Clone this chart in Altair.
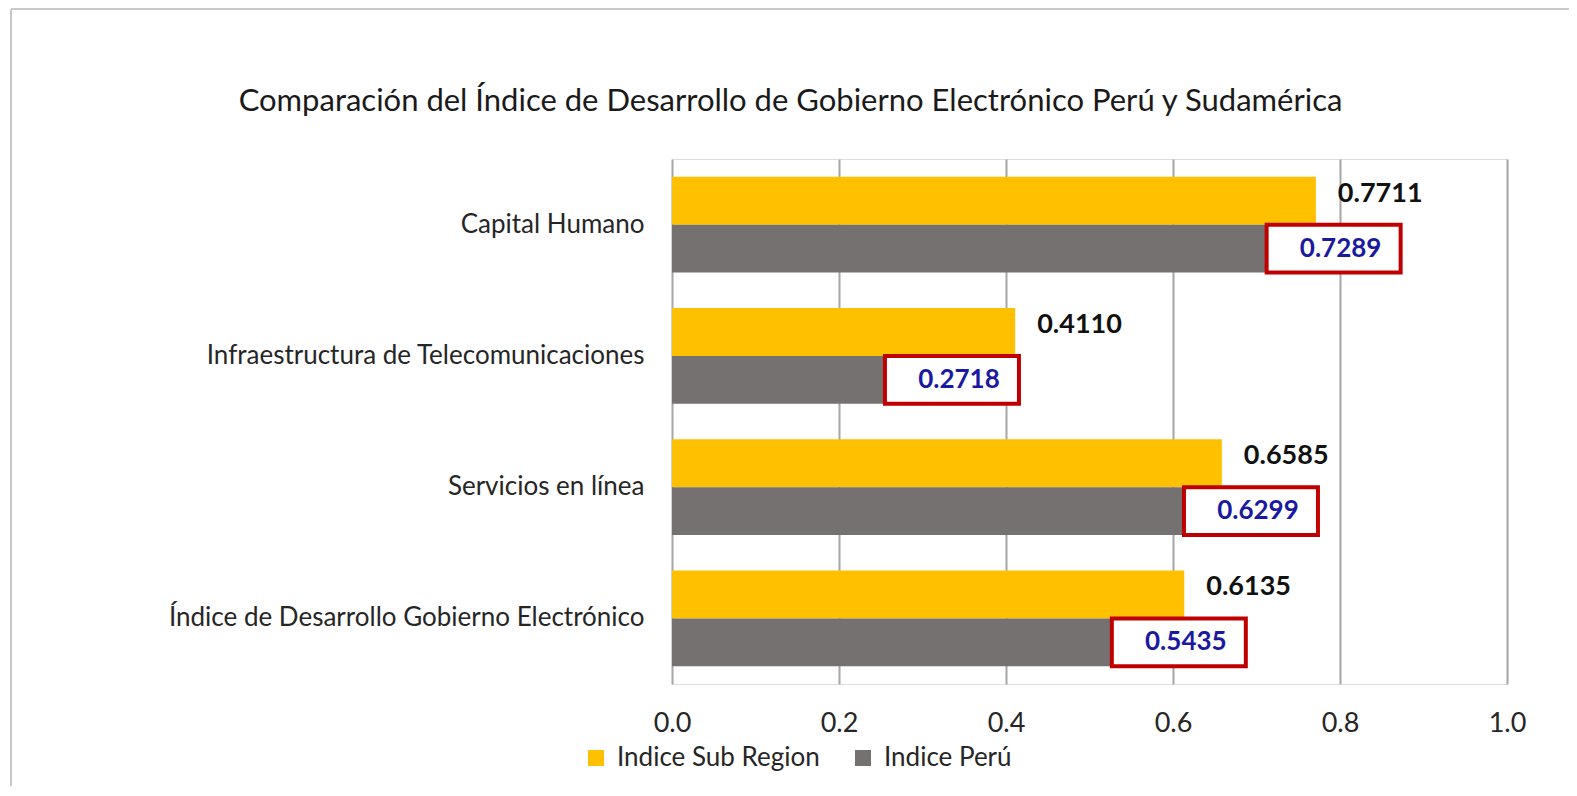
import altair as alt
import pandas as pd

categories = [
    "Capital Humano",
    "Infraestructura de Telecomunicaciones",
    "Servicios en línea",
    "Índice de Desarrollo Gobierno Electrónico",
]
sub_region = [0.7711, 0.4110, 0.6585, 0.6135]
peru = [0.7289, 0.2718, 0.6299, 0.5435]
series_names = ["Indice Sub Region", "Indice Perú"]
x_ticks = [0.0, 0.2, 0.4, 0.6, 0.8, 1.0]

rows = []
for c, s, p in zip(categories, sub_region, peru):
    rows.append({"cat": c, "series": series_names[0], "value": s})
    rows.append({"cat": c, "series": series_names[1], "value": p})
df = pd.DataFrame(rows)

FONT = "Lato"
TXT = "#262626"

y_enc = alt.Y("cat:N", sort=categories, title=None,
              scale=alt.Scale(paddingInner=0.27, paddingOuter=0.135),
              axis=alt.Axis(labelFontSize=26, labelColor=TXT, labelFont=FONT,
                            labelPadding=28, domain=False, ticks=False, labelLimit=700))
yoff = alt.YOffset("series:N", sort=series_names, scale=alt.Scale(paddingInner=0, paddingOuter=0))
x_enc = alt.X("value:Q", title=None,
              scale=alt.Scale(domain=[0, 1]),
              axis=alt.Axis(values=x_ticks, format=".1f", grid=True, gridColor="#A6A6A6",
                            gridWidth=2, domain=False, ticks=False, labelFontSize=27,
                            labelFont=FONT, labelColor=TXT, labelPadding=26,
                            labelFlush=False))

base = alt.Chart(df)

bars = base.mark_bar().encode(
    y=y_enc, yOffset=yoff, x=x_enc,
    color=alt.Color("series:N", sort=series_names,
                    scale=alt.Scale(domain=series_names, range=["#FFC000", "#767171"]),
                    legend=alt.Legend(orient="none", legendX=-89, legendY=586,
                                      direction="horizontal", title=None,
                                      labelFontSize=26, labelFont=FONT, labelColor=TXT,
                                      labelLimit=400, labelOffset=8,
                                      symbolType="square", symbolSize=256,
                                      symbolStrokeWidth=0, columnPadding=30)),
)

boxes = base.transform_filter(alt.datum.series == series_names[1]).mark_rect(
    fill="white", stroke="#C00000", strokeWidth=4, xOffset=-14, x2Offset=120
).encode(y=y_enc, yOffset=yoff, x="value:Q", x2="value:Q")

sub_text = base.transform_filter(alt.datum.series == series_names[0]).mark_text(
    align="left", baseline="middle", dx=22, dy=-7, fontWeight="bold", fontSize=27,
    font=FONT, color="#111111"
).encode(y=y_enc, yOffset=yoff, x="value:Q", text=alt.Text("value:Q", format=".4f"))

peru_text = base.transform_filter(alt.datum.series == series_names[1]).mark_text(
    align="center", baseline="middle", dx=60, dy=0, fontWeight="bold", fontSize=26,
    font=FONT, color="#1A1AA0"
).encode(y=y_enc, yOffset=yoff, x="value:Q", text=alt.Text("value:Q", format=".4f"))

# light frame around the figure (decorative)
frame_left = alt.Chart(pd.DataFrame({"k": [0]})).mark_rule(
    color="#C8C8C8", strokeWidth=2
).encode(x=alt.value(-661), y=alt.value(-150), y2=alt.value(640))
frame_top = alt.Chart(pd.DataFrame({"k": [0]})).mark_rule(
    color="#C8C8C8", strokeWidth=2
).encode(x=alt.value(-661), x2=alt.value(905), y=alt.value(-150))

chart = alt.layer(frame_left, frame_top, bars, boxes, sub_text, peru_text).properties(
    width=835, height=525,
    title=alt.TitleParams(
        "Comparación del Índice de Desarrollo de Gobierno Electrónico Perú y Sudamérica",
        fontSize=31, font=FONT, fontWeight="normal", color="#1a1a1a",
        anchor="middle", frame="group", dx=-299, offset=-110),
    autosize=alt.AutoSizeParams(type="none"),
    padding={"left": 664, "top": 151, "right": 62, "bottom": 102},
).configure_view(stroke=None).configure(background="white")

chart.save("out.html", embed_options={"renderer": "svg", "actions": False})
